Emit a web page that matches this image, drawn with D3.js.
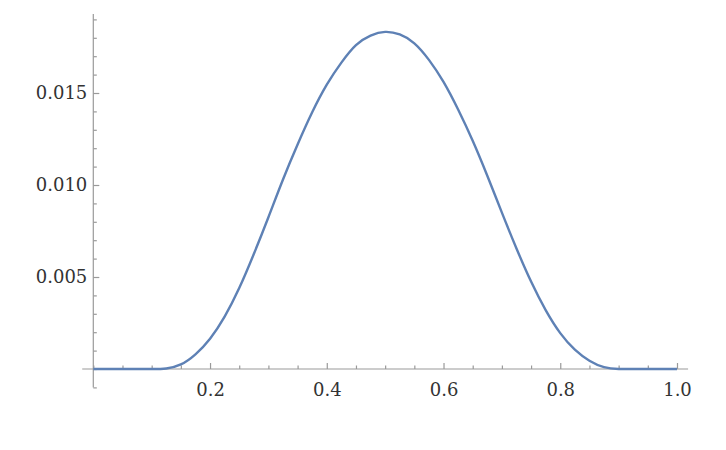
<!DOCTYPE html>
<html lang="en">
	<head>
		<meta charset="UTF-8" />
		<title>Plot</title>
		<style>
			body { margin: 0; background: #fff; }
		</style>
	</head>
	<body>
		<svg id="svg" width="726" height="450"></svg>

		<script src="https://d3js.org/d3.v7.min.js"></script>
		<script>
			// values
			const xs = [
				0, 0.025, 0.05, 0.075, 0.1, 0.125, 0.15, 0.175, 0.2, 0.225, 0.25,
				0.275, 0.3, 0.325, 0.35, 0.375, 0.4, 0.425, 0.45, 0.475, 0.5,
				0.525, 0.55, 0.575, 0.6, 0.625, 0.65, 0.675, 0.7, 0.725, 0.75,
				0.775, 0.8, 0.825, 0.85, 0.875, 0.9, 0.925, 0.95, 0.975, 1,
			];
			const ys = [
				0, 0, 0, 0, 0, 0.00003, 0.00025, 0.0008, 0.00165, 0.00285, 0.0044,
				0.00625, 0.00825, 0.0103, 0.0122, 0.01395, 0.01545, 0.01665, 0.0176,
				0.01812, 0.01832, 0.01818, 0.0177, 0.0168, 0.0156, 0.0141, 0.0124,
				0.0105, 0.0085, 0.00655, 0.00475, 0.0032, 0.00195, 0.00105, 0.00045,
				0.0001, 0, 0, 0, 0, 0,
			];
			const xMajor = [0.2, 0.4, 0.6, 0.8, 1.0];
			const xLabels = ['0.2', '0.4', '0.6', '0.8', '1.0'];
			const yMajor = [0.005, 0.01, 0.015];
			const yLabels = ['0.005', '0.010', '0.015'];

			const data = xs.map((x, i) => ({ x: x, y: ys[i] }));

			const xScale = d3.scaleLinear().domain([0, 1]).range([93.3, 677]);
			const yScale = d3.scaleLinear().domain([0, 0.015]).range([369, 93]);

			const svg = d3.select('#svg');
			const axisColor = '#9a9a9a';
			const font = 'DejaVu Serif';

			const xMinor = d3.range(0, 1.0001, 0.05).filter(
				(v) => !xMajor.some((m) => Math.abs(m - v) < 1e-6)
			);
			const yMinor = d3.range(-0.001, 0.0195, 0.001).filter(
				(v) => !yMajor.some((m) => Math.abs(m - v) < 1e-7)
			);

			// x axis
			const gx = svg.append('g').attr('transform', `translate(0,${yScale(0)})`);
			gx.call(d3.axisBottom(xScale).tickValues(xMinor).tickSize(-3.5).tickFormat(''));
			gx.select('.domain').remove();
			const gx2 = svg.append('g').attr('transform', `translate(0,${yScale(0)})`);
			gx2.call(
				d3
					.axisBottom(xScale)
					.tickValues(xMajor)
					.tickSize(-6)
					.tickPadding(14)
					.tickFormat((d, i) => xLabels[i])
			);
			gx2.select('.domain').remove();
			svg
				.append('line')
				.attr('x1', xScale(-0.019))
				.attr('x2', xScale(1.019))
				.attr('y1', yScale(0))
				.attr('y2', yScale(0))
				.attr('stroke', axisColor)
				.attr('stroke-width', 1.2);

			// y axis
			const gy = svg.append('g').attr('transform', `translate(${xScale(0)},0)`);
			gy.call(d3.axisLeft(yScale).tickValues(yMinor).tickSize(-3.5).tickFormat(''));
			gy.select('.domain').remove();
			const gy2 = svg.append('g').attr('transform', `translate(${xScale(0)},0)`);
			gy2.call(
				d3
					.axisLeft(yScale)
					.tickValues(yMajor)
					.tickSize(-6)
					.tickPadding(6)
					.tickFormat((d, i) => yLabels[i])
			);
			gy2.select('.domain').remove();
			svg
				.append('line')
				.attr('x1', xScale(0))
				.attr('x2', xScale(0))
				.attr('y1', yScale(-0.001))
				.attr('y2', yScale(0.0193))
				.attr('stroke', axisColor)
				.attr('stroke-width', 1.2);

			svg.selectAll('.tick line').attr('stroke', axisColor).attr('stroke-width', 1.2);
			svg
				.selectAll('.tick text')
				.style('font-family', font)
				.style('font-size', '18px')
				.attr('fill', '#333');

			// curve
			svg
				.append('path')
				.datum(data)
				.attr(
					'd',
					d3
						.line()
						.x((d) => xScale(d.x))
						.y((d) => yScale(d.y))
						.curve(d3.curveNatural)
				)
				.attr('fill', 'none')
				.attr('stroke', '#5e81b5')
				.attr('stroke-width', 2.4);
		</script>
	</body>
</html>
